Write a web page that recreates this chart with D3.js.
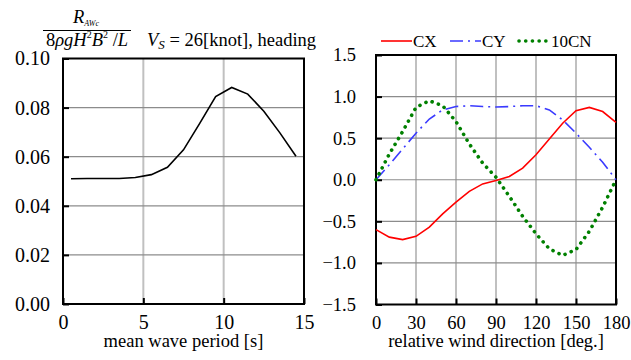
<!DOCTYPE html>
<html>
<head>
<meta charset="utf-8">
<script src="https://cdn.jsdelivr.net/npm/d3@7"></script>
<style>
    body { margin: 0; background: #fff; }
    svg text { font-family: "Liberation Serif", "Times New Roman", serif; }
</style>
</head>
<body>
<svg id="chart" width="631" height="360"></svg>
<script>
// Left panel: added resistance vs mean wave period
let periods = [0.5, 1.5, 2.5, 3.5, 4.5, 5.5, 6.5, 7.5, 8.5, 9.5, 10.5, 11.5, 12.5, 13.5, 14.5];
let resistance = [0.0510, 0.0511, 0.0511, 0.0511, 0.0515, 0.0527, 0.0557, 0.0628, 0.0735, 0.0845, 0.0882, 0.0855, 0.0785, 0.0697, 0.0602];
let periodTicks = [0, 5, 10, 15];
let resistanceTicks = [0, 0.02, 0.04, 0.06, 0.08, 0.10];

// Right panel: wind coefficients vs relative wind direction
let angles = [0, 10, 20, 30, 40, 50, 60, 70, 80, 90, 100, 110, 120, 130, 140, 150, 160, 170, 180];
let cx = [-0.60, -0.69, -0.72, -0.68, -0.57, -0.41, -0.27, -0.14, -0.05, -0.01, 0.04, 0.14, 0.30, 0.49, 0.68, 0.83, 0.87, 0.82, 0.69];
let cy = [0.00, 0.18, 0.37, 0.56, 0.73, 0.84, 0.88, 0.89, 0.88, 0.875, 0.88, 0.89, 0.89, 0.84, 0.72, 0.56, 0.39, 0.21, 0.00];
let cn10 = [0.00, 0.31, 0.58, 0.87, 0.95, 0.89, 0.70, 0.43, 0.20, 0.03, -0.20, -0.44, -0.65, -0.83, -0.91, -0.84, -0.62, -0.33, 0.00];
let angleTicks = [0, 30, 60, 90, 120, 150, 180];
let coefTicks = [-1.5, -1.0, -0.5, 0.0, 0.5, 1.0, 1.5];

let seriesNames = ["CX", "CY", "10CN"];

let serif = "'Liberation Serif', 'Times New Roman', serif";
let svg = d3.select("#chart").style("font-family", serif);

// Styling for each wind series
let seriesStyle = {
    "CX": { color: "#ff0000", width: 1.6, dash: null, cap: "butt" },
    "CY": { color: "#3a3aff", width: 1.6, dash: "13,5,2,5", cap: "butt" },
    "10CN": { color: "#008000", width: 3.6, dash: "0.1,6.6", cap: "round" }
};

// Shared helper: frame, grid, ticks and labels of one panel
function drawPanel(xScale, yScale, xTicks, yTicks, yFormat, labelGap, labelSize, xTitle) {
    let [x0, x1] = xScale.range();
    let [y0, y1] = yScale.range();
    let g = svg.append("g");

    // vertical grid (lighter, thicker)
    g.selectAll(".vgrid")
        .data(xTicks.slice(1, -1))
        .enter()
        .append("line")
        .attr("x1", d => xScale(d)).attr("x2", d => xScale(d))
        .attr("y1", y1).attr("y2", y0)
        .style("stroke", "#c0c0c0")
        .style("stroke-width", 2);

    // horizontal grid (darker, thinner)
    g.selectAll(".hgrid")
        .data(yTicks.slice(1, -1))
        .enter()
        .append("line")
        .attr("x1", x0).attr("x2", x1)
        .attr("y1", d => yScale(d)).attr("y2", d => yScale(d))
        .style("stroke", "#8c8c8c")
        .style("stroke-width", 1.2);

    // inward ticks on the bottom axis
    g.append("g")
        .attr("transform", `translate(0,${y0})`)
        .call(d3.axisBottom(xScale).tickValues(xTicks).tickSize(-6).tickPadding(11).tickFormat(d3.format("d")))
        .call(a => a.select(".domain").remove())
        .call(a => a.selectAll("line").style("stroke", "#000").style("stroke-width", 2))
        .call(a => a.selectAll("text").style("font-size", labelSize + "px").style("font-family", serif).attr("fill", "#000"));

    // inward ticks on the left axis
    g.append("g")
        .attr("transform", `translate(${x0},0)`)
        .call(d3.axisLeft(yScale).tickValues(yTicks).tickSize(-6).tickPadding(labelGap).tickFormat(yFormat))
        .call(a => a.select(".domain").remove())
        .call(a => a.selectAll("line").style("stroke", "#000").style("stroke-width", 2))
        .call(a => a.selectAll("text").style("font-size", labelSize + "px").style("font-family", serif).attr("fill", "#000"));

    // frame
    g.append("rect")
        .attr("x", x0).attr("y", y1)
        .attr("width", x1 - x0).attr("height", y0 - y1)
        .attr("fill", "none")
        .style("stroke", "#000")
        .style("stroke-width", 2);

    // axis title
    g.append("text")
        .attr("x", (x0 + x1) / 2)
        .attr("y", 347)
        .attr("text-anchor", "middle")
        .style("font-size", "18.5px")
        .text(xTitle);

    return g;
}

// ---- left panel ----
let xLeft = d3.scaleLinear().domain([0, 15]).range([63, 304]);
let yLeft = d3.scaleLinear().domain([0, 0.10]).range([304, 58.5]);

drawPanel(xLeft, yLeft, periodTicks, resistanceTicks, d3.format(".2f"), 13, 20, "mean wave period [s]");

let leftLine = d3.line()
    .x((d, i) => xLeft(periods[i]))
    .y(d => yLeft(d));

svg.append("path")
    .datum(resistance)
    .attr("d", leftLine)
    .attr("fill", "none")
    .style("stroke", "#000")
    .style("stroke-width", 1.6);

// Header: R_AWc / (8 rho g H^2 B^2 / L)   V_S = 26[knot], heading
let header = svg.append("g").style("font-size", "18.5px");
let num = header.append("text").attr("x", 86).attr("y", 23).attr("text-anchor", "middle");
num.append("tspan").style("font-style", "italic").text("R");
num.append("tspan").style("font-style", "italic").style("font-size", "8px").attr("dy", 3).text("AWc");

header.append("line")
    .attr("x1", 43).attr("x2", 131)
    .attr("y1", 30.5).attr("y2", 30.5)
    .style("stroke", "#000")
    .style("stroke-width", 1);

let den = header.append("text").attr("x", 87).attr("y", 46).attr("text-anchor", "middle");
den.append("tspan").text("8");
den.append("tspan").style("font-style", "italic").text("ρgH");
den.append("tspan").style("font-size", "10px").attr("dy", -8).text("2");
den.append("tspan").style("font-style", "italic").attr("dy", 8).text("B");
den.append("tspan").style("font-size", "10px").attr("dy", -8).text("2");
den.append("tspan").attr("dy", 8).text(" /");
den.append("tspan").style("font-style", "italic").text("L");

let vs = header.append("text").attr("x", 147).attr("y", 46);
vs.append("tspan").style("font-style", "italic").text("V");
vs.append("tspan").style("font-style", "italic").style("font-size", "13px").attr("dy", 3).text("S");
vs.append("tspan").attr("dy", -3).text(" = 26[knot], heading");

// ---- right panel ----
let xRight = d3.scaleLinear().domain([0, 180]).range([376, 616]);
let yRight = d3.scaleLinear().domain([-1.5, 1.5]).range([304.5, 55]);

drawPanel(xRight, yRight, angleTicks, coefTicks, d3.format(".1f"), 20, 18.5, "relative wind direction [deg.]");

let seriesValues = { "CX": cx, "CY": cy, "10CN": cn10 };

let rightLine = d3.line()
    .x((d, i) => xRight(angles[i]))
    .y(d => yRight(d));

// order so the solid red line sits on top like the reference
["CY", "10CN", "CX"].forEach(name => {
    let st = seriesStyle[name];
    svg.append("path")
        .datum(seriesValues[name])
        .attr("d", rightLine)
        .attr("fill", "none")
        .style("stroke", st.color)
        .style("stroke-width", st.width)
        .style("stroke-dasharray", st.dash)
        .style("stroke-linecap", st.cap);
});

// Legend above the right panel
let legendX = [381, 450, 519];
let legend = svg.append("g");
seriesNames.forEach((name, i) => {
    let st = seriesStyle[name];
    legend.append("line")
        .attr("x1", legendX[i]).attr("x2", legendX[i] + 31)
        .attr("y1", 41).attr("y2", 41)
        .style("stroke", st.color)
        .style("stroke-width", st.width)
        .style("stroke-dasharray", st.dash)
        .style("stroke-linecap", st.cap);
    legend.append("text")
        .attr("x", legendX[i] + 32)
        .attr("y", 47)
        .style("font-size", "17px")
        .text(name);
});
</script>
</body>
</html>
